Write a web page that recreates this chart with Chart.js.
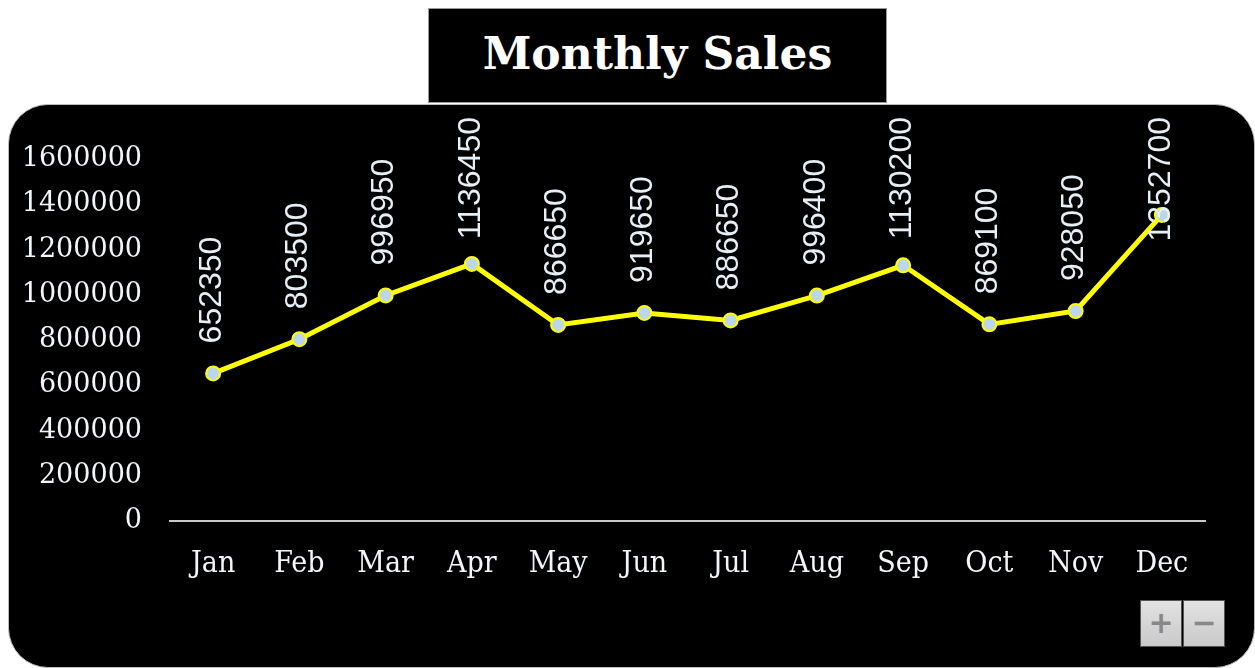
<!DOCTYPE html>
<html>
<head>
<meta charset="utf-8">
<title>Monthly Sales</title>
<script src="https://cdn.jsdelivr.net/npm/chart.js@4.4.1/dist/chart.umd.min.js"></script>
<style>
  body { margin: 0; background: #fff; }
  .wrap { position: relative; width: 1255px; height: 668px; overflow: hidden; }
  .panel {
    position: absolute; left: 8px; top: 104px; width: 1245px; height: 562px;
    background: #000; border: 1px solid #bbb; border-radius: 40px;
  }
  .title {
    position: absolute; left: 428px; top: 8px; width: 457px; height: 93px;
    background: #000; border: 1px solid #999; color: #fff;
    font-family: "DejaVu Serif", serif; font-size: 44px; font-weight: bold;
    line-height: 90px; text-align: center;
  }
  .canvas-box { position: absolute; left: 0; top: 0; width: 1255px; height: 668px; }
  .zoom {
    position: absolute; top: 600px; width: 40px; height: 45px;
    background: linear-gradient(#e2e2e2, #c9c9c9); border: 1px solid #555;
    color: #888; font: bold 30px "DejaVu Sans", sans-serif;
    line-height: 44px; text-align: center;
  }
</style>
</head>
<body>
<div class="wrap">
  <div class="panel"></div>
  <div class="title">Monthly Sales</div>
  <div class="canvas-box"><canvas id="myChart"></canvas></div>
  <div class="zoom" style="left:1140px">+</div>
  <div class="zoom" style="left:1183px">&minus;</div>
</div>
<script>
// data
var months = ['Jan', 'Feb', 'Mar', 'Apr', 'May', 'Jun', 'Jul', 'Aug', 'Sep', 'Oct', 'Nov', 'Dec'];
var sales = [652350, 803500, 996950, 1136450, 866650, 919650, 886650, 996400, 1130200, 869100, 928050, 1352700];
var yTicks = [0, 200000, 400000, 600000, 800000, 1000000, 1200000, 1400000, 1600000];

// rotated value labels above each point
var valueLabels = {
  id: 'valueLabels',
  afterDatasetsDraw: function(chart) {
    var c = chart.ctx;
    var meta = chart.getDatasetMeta(0);
    c.save();
    c.font = '32px "Liberation Sans", Arial, sans-serif';
    c.fillStyle = '#e6eef6';
    c.textAlign = 'left';
    c.textBaseline = 'middle';
    meta.data.forEach(function(pt, i) {
      var txt = String(sales[i]);
      var w = c.measureText(txt).width;
      var bottom = pt.y - 30;
      if (bottom - w < 117) bottom = 117 + w;
      c.save();
      c.translate(pt.x - 1, bottom);
      c.rotate(-Math.PI / 2);
      c.fillText(txt, 0, 0);
      c.restore();
    });
    c.restore();
  }
};

var ctx = document.getElementById('myChart').getContext('2d');
var myChart = new Chart(ctx, {
  type: 'line',
  data: {
    labels: months,
    datasets: [{
      label: 'Sales',
      data: sales,
      fill: false,
      borderColor: '#ffff00',
      borderWidth: 5,
      pointRadius: 7,
      pointBorderWidth: 2,
      pointBackgroundColor: '#bcd6ec',
      pointBorderColor: '#ffff00',
      tension: 0
    }]
  },
  options: {
    responsive: true,
    maintainAspectRatio: false,
    animation: false,
    layout: { padding: { top: 159, right: 50, left: 0, bottom: 0 } },
    plugins: { legend: { display: false }, tooltip: { enabled: false } },
    scales: {
      x: {
        offset: true,
        grid: { display: false, drawTicks: false },
        border: { display: true, color: '#c8c8c8', width: 2 },
        ticks: {
          color: '#f2f6fa',
          padding: 25,
          font: { family: '"DejaVu Serif Condensed", "DejaVu Serif", serif', size: 30 }
        },
        afterFit: function(scale) { scale.height = 147; }
      },
      y: {
        min: yTicks[0],
        max: yTicks[yTicks.length - 1],
        grid: { display: false, drawTicks: false },
        border: { display: false },
        afterBuildTicks: function(scale) {
          scale.ticks = yTicks.map(function(v) { return { value: v }; });
        },
        ticks: {
          color: '#f2f6fa',
          padding: 28,
          font: { family: '"DejaVu Serif", serif', size: 27 },
          callback: function(value) { return String(value); }
        },
        afterFit: function(scale) { scale.width = 170; }
      }
    }
  },
  plugins: [valueLabels]
});
</script>
</body>
</html>
